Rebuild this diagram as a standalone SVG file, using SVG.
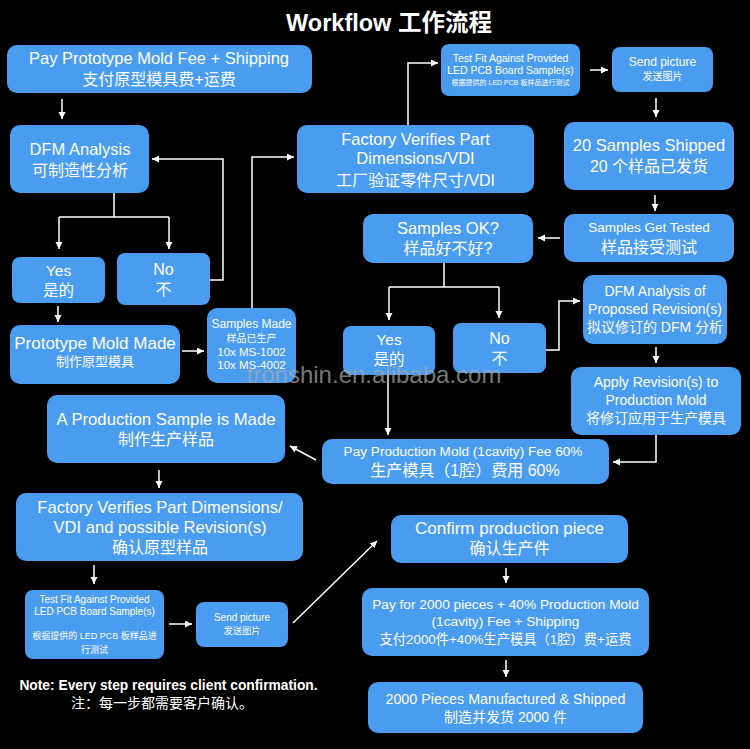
<svg xmlns="http://www.w3.org/2000/svg" width="750" height="749" viewBox="0 0 750 749">
<defs>
<marker id="ah" markerUnits="userSpaceOnUse" markerWidth="8" markerHeight="8" refX="7" refY="3.5" orient="auto">
<path d="M0,0 L7,3.5 L0,7 z" fill="#ffffff"/>
</marker>
<style>
.b{fill:#4a9cf0}
text{fill:#ffffff;font-family:"Liberation Sans","Noto Sans CJK SC",sans-serif;text-anchor:middle}
.c{fill:none;stroke:#ffffff;stroke-width:1.5}
.a{marker-end:url(#ah)}
</style>
</defs>
<rect x="0" y="0" width="750" height="749" fill="#000000"/>
<text x="389" y="31" style="font-size:23.5px;font-weight:bold">Workflow 工作流程</text>

<g id="n1"><rect class="b" x="7" y="45" width="305" height="48" rx="10"/>
<text x="159" y="64" style="font-size:16.5px">Pay Prototype Mold Fee + Shipping</text>
<text x="159" y="85" style="font-size:16px">支付原型模具费+运费</text></g>

<g id="n2"><rect class="b" x="10" y="125" width="139" height="68" rx="10"/>
<text x="80" y="155" style="font-size:16.5px">DFM Analysis</text>
<text x="80" y="176" style="font-size:16px">可制造性分析</text></g>

<g id="n3"><rect class="b" x="12" y="257" width="93" height="46" rx="8"/>
<text x="58.5" y="276" style="font-size:15.5px">Yes</text>
<text x="58.5" y="296" style="font-size:15.5px">是的</text></g>

<g id="n4"><rect class="b" x="117" y="253" width="93" height="52" rx="8"/>
<text x="163.5" y="275" style="font-size:16px">No</text>
<text x="163.5" y="295" style="font-size:16px">不</text></g>

<g id="n5"><rect class="b" x="10" y="325" width="170" height="59" rx="10"/>
<text x="95" y="349" style="font-size:17px">Prototype Mold Made</text>
<text x="95" y="366" style="font-size:13px">制作原型模具</text></g>

<g id="n6"><rect class="b" x="207" y="308" width="89" height="75" rx="10"/>
<text x="251.5" y="328" style="font-size:12px">Samples Made</text>
<text x="251.5" y="342" style="font-size:10px">样品已生产</text>
<text x="251.5" y="356" style="font-size:11.5px">10x MS-1002</text>
<text x="251.5" y="369" style="font-size:11.5px">10x MS-4002</text></g>

<g id="n7"><rect class="b" x="297" y="125" width="237" height="68" rx="10"/>
<text x="415.5" y="145" style="font-size:16.5px">Factory Verifies Part</text>
<text x="415.5" y="164" style="font-size:16.5px">Dimensions/VDI</text>
<text x="415.5" y="186" style="font-size:16px">工厂验证零件尺寸/VDI</text></g>

<g id="n8"><rect class="b" x="441" y="44" width="139" height="52" rx="8"/>
<text x="510.5" y="62" style="font-size:10.5px">Test Fit Against Provided</text>
<text x="510.5" y="74" style="font-size:10.5px">LED PCB Board Sample(s)</text>
<text x="510.5" y="85" style="font-size:7px">根据提供的 LED PCB 板样品进行测试</text></g>

<g id="n9"><rect class="b" x="612" y="47" width="101" height="45" rx="8"/>
<text x="662.5" y="66" style="font-size:12px">Send picture</text>
<text x="662.5" y="80" style="font-size:10px">发送图片</text></g>

<g id="n10"><rect class="b" x="564" y="122" width="170" height="68" rx="10"/>
<text x="649" y="151" style="font-size:16.5px">20 Samples Shipped</text>
<text x="649" y="172" style="font-size:16px">20 个样品已发货</text></g>

<g id="n11"><rect class="b" x="564" y="214" width="170" height="48" rx="10"/>
<text x="649" y="232" style="font-size:13.5px">Samples Get Tested</text>
<text x="649" y="253" style="font-size:16px">样品接受测试</text></g>

<g id="n12"><rect class="b" x="363" y="214" width="170" height="49" rx="10"/>
<text x="448" y="234" style="font-size:16.5px">Samples OK?</text>
<text x="448" y="254" style="font-size:16px">样品好不好?</text></g>

<g id="n13"><rect class="b" x="343" y="326" width="92" height="49" rx="8"/>
<text x="389" y="345" style="font-size:15.5px">Yes</text>
<text x="389" y="365" style="font-size:15.5px">是的</text></g>

<g id="n14"><rect class="b" x="453" y="323" width="93" height="50" rx="8"/>
<text x="499.5" y="344" style="font-size:16px">No</text>
<text x="499.5" y="364" style="font-size:16px">不</text></g>

<g id="n15"><rect class="b" x="583" y="275" width="144" height="69" rx="10"/>
<text x="655" y="296" style="font-size:14px">DFM Analysis of</text>
<text x="655" y="314" style="font-size:14px">Proposed Revision(s)</text>
<text x="655" y="332" style="font-size:14px">拟议修订的 DFM 分析</text></g>

<g id="n16"><rect class="b" x="571" y="367" width="170" height="68" rx="10"/>
<text x="656" y="387" style="font-size:14px">Apply Revision(s) to</text>
<text x="656" y="405" style="font-size:14px">Production Mold</text>
<text x="656" y="423" style="font-size:14px">将修订应用于生产模具</text></g>

<g id="n17"><rect class="b" x="322" y="439" width="287" height="45" rx="10"/>
<text x="463" y="456" style="font-size:13.6px">Pay Production Mold (1cavity) Fee 60%</text>
<text x="465" y="476" style="font-size:16px">生产模具（1腔）费用 60%</text></g>

<g id="n18"><rect class="b" x="47" y="395" width="238" height="68" rx="10"/>
<text x="166" y="425" style="font-size:16.7px">A Production Sample is Made</text>
<text x="166" y="445" style="font-size:16px">制作生产样品</text></g>

<g id="n19"><rect class="b" x="16" y="493" width="287" height="68" rx="10"/>
<text x="160" y="513" style="font-size:16.6px">Factory Verifies Part Dimensions/</text>
<text x="160" y="533" style="font-size:16.6px">VDI and possible Revision(s)</text>
<text x="160" y="553" style="font-size:16px">确认原型样品</text></g>

<g id="n20"><rect class="b" x="25" y="590" width="139" height="69" rx="8"/>
<text x="94.5" y="603" style="font-size:10px">Test Fit Against Provided</text>
<text x="94.5" y="615" style="font-size:10px">LED PCB Board Sample(s)</text>
<text x="94.5" y="639" style="font-size:9px">根据提供的 LED PCB 板样品进</text>
<text x="94.5" y="653" style="font-size:9px">行测试</text></g>

<g id="n21"><rect class="b" x="196" y="602" width="92" height="45" rx="8"/>
<text x="242" y="621" style="font-size:10px">Send picture</text>
<text x="242" y="634" style="font-size:9.3px">发送图片</text></g>

<g id="n22"><rect class="b" x="391" y="515" width="237" height="48" rx="10"/>
<text x="509.5" y="534" style="font-size:17px">Confirm production piece</text>
<text x="509.5" y="554" style="font-size:16px">确认生产件</text></g>

<g id="n23"><rect class="b" x="362" y="588" width="287" height="68" rx="10"/>
<text x="505.5" y="609" style="font-size:13.7px">Pay for 2000 pieces + 40% Production Mold</text>
<text x="505.5" y="626" style="font-size:13.7px">(1cavity) Fee + Shipping</text>
<text x="505.5" y="644" style="font-size:13.3px">支付2000件+40%生产模具（1腔）费+运费</text></g>

<g id="n24"><rect class="b" x="368" y="682" width="275" height="51" rx="10"/>
<text x="505.5" y="704" style="font-size:14.3px">2000 Pieces Manufactured &amp; Shipped</text>
<text x="505.5" y="722" style="font-size:14px">制造并发货 2000 件</text></g>

<g id="note">
<text x="168.5" y="690" style="font-size:13.8px;font-weight:bold">Note: Every step requires client confirmation.</text>
<text x="162" y="708" style="font-size:14px">注：每一步都需要客户确认。</text>
</g>

<g id="connectors">
<path class="c a" d="M62,99 V119"/>
<path class="c" d="M114,193 V217 M59,217 H169"/>
<path class="c a" d="M59,217 V249"/>
<path class="c a" d="M169,217 V249"/>
<path class="c a" d="M210,280 H223 V159 H152"/>
<path class="c a" d="M58,306 V322"/>
<path class="c a" d="M182,351 H204"/>
<path class="c a" d="M252,308 V157 H294"/>
<path class="c a" d="M408,125 V63 H438"/>
<path class="c a" d="M590,70 H608"/>
<path class="c a" d="M656,98 V117"/>
<path class="c a" d="M655,195 V211"/>
<path class="c a" d="M560,238 H538"/>
<path class="c" d="M444,263 V287 M389,287 H499"/>
<path class="c a" d="M389,287 V320"/>
<path class="c a" d="M499,287 V318"/>
<path class="c a" d="M546,350 H559 V301 H580"/>
<path class="c a" d="M656,347 V363"/>
<path class="c a" d="M656,435 V462 H613"/>
<path class="c a" d="M388,375 V435"/>
<path class="c a" d="M316,460 L290,446"/>
<path class="c a" d="M159,470 V488"/>
<path class="c a" d="M94,565 V584"/>
<path class="c a" d="M169,624 H192"/>
<path class="c a" d="M293,623 L377,541"/>
<path class="c a" d="M506,568 V583"/>
<path class="c a" d="M506,660 V677"/>
</g>

<text x="374" y="383" style="font-size:24px;fill:#a8a8a8;opacity:0.7">tronshin.en.alibaba.com</text>
</svg>
